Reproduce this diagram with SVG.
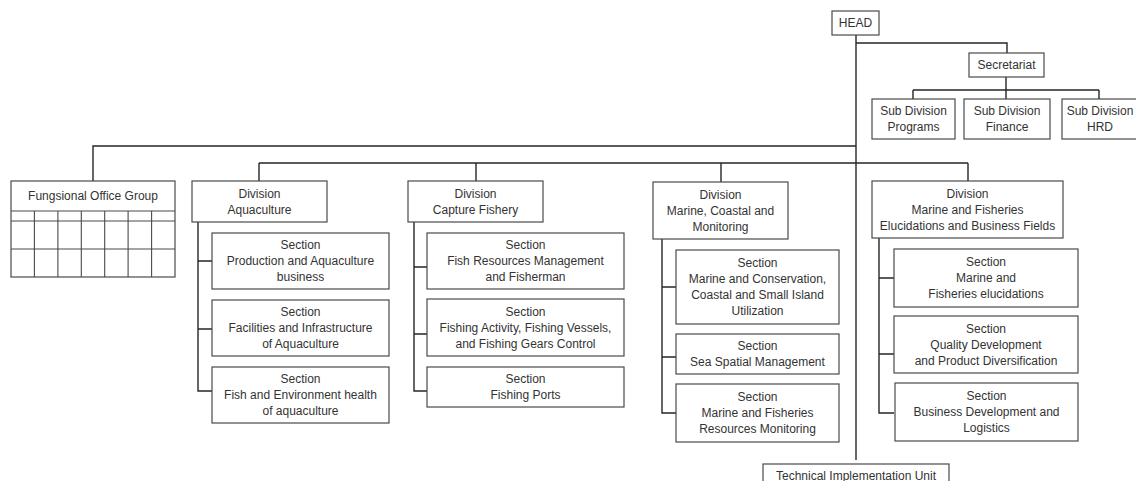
<svg xmlns="http://www.w3.org/2000/svg" width="1136" height="481" viewBox="0 0 1136 481">
  <style>
    .box { fill: #ffffff; stroke: #4a4a4a; stroke-width: 1.2; }
    .grid { fill: none; stroke: #4a4a4a; stroke-width: 1.1; }
    .link { fill: none; stroke: #262626; stroke-width: 1.4; }
    text { font-family: "Liberation Sans", Arial, sans-serif; font-size: 12px; fill: #333333; text-anchor: middle; }
  </style>
  <rect width="1136" height="481" fill="#ffffff"/>

  <!-- connectors -->
  <g id="connectors" class="link">
    <path d="M856 35 V460"/>
    <path d="M856 43 H1007 V53"/>
    <path d="M1006 77 V90 M913 90 H1099 M913 90 V99 M1006 90 V99 M1099 90 V99"/>
    <path d="M856 146 H93 V181"/>
    <path d="M259 163 H968 M259 163 V181 M476 163 V181 M721 163 V182 M968 163 V181"/>
    <path d="M198 222 V391 H212 M198 261 H212 M198 329 H212"/>
    <path d="M414 222 V391 H427 M414 267 H427 M414 334 H427"/>
    <path d="M662 239 V413 H676 M662 287 H676 M662 357 H676"/>
    <path d="M879 238 V413 H894 M879 278 H894 M879 354 H894"/>
  </g>

  <g id="head">
    <rect class="box" x="832" y="11" width="47" height="24"/>
    <text x="855.5" y="27">HEAD</text>
  </g>

  <g id="secretariat">
    <rect class="box" x="969" y="53" width="75" height="24"/>
    <text x="1006.5" y="69">Secretariat</text>
  </g>

  <g id="sub-programs">
    <rect class="box" x="872" y="99" width="83" height="40"/>
    <text x="913.5" y="115">Sub Division</text>
    <text x="913.5" y="131">Programs</text>
  </g>
  <g id="sub-finance">
    <rect class="box" x="964" y="99" width="86" height="40"/>
    <text x="1007" y="115">Sub Division</text>
    <text x="1007" y="131">Finance</text>
  </g>
  <g id="sub-hrd">
    <rect class="box" x="1062" y="99" width="80" height="40"/>
    <text x="1100" y="115">Sub Division</text>
    <text x="1100" y="131">HRD</text>
  </g>

  <g id="functional-group">
    <rect class="box" x="11" y="181" width="164" height="96"/>
    <text x="93" y="200">Fungsional Office Group</text>
    <path class="grid" d="M11 211 H175 M11 221 H175 M11 249 H175 M34.4 211 V277 M57.9 211 V277 M81.3 211 V277 M104.7 211 V277 M128.1 211 V277 M151.6 211 V277"/>
  </g>

  <!-- Division Aquaculture -->
  <g id="div-aquaculture">
    <rect class="box" x="192" y="181" width="135" height="41"/>
    <text x="259.5" y="197.5">Division</text>
    <text x="259.5" y="213.5">Aquaculture</text>
  </g>
  <g id="sec-production">
    <rect class="box" x="212" y="233" width="177" height="56"/>
    <text x="300.5" y="249">Section</text>
    <text x="300.5" y="265">Production and Aquaculture</text>
    <text x="300.5" y="281">business</text>
  </g>
  <g id="sec-facilities">
    <rect class="box" x="212" y="300" width="177" height="56"/>
    <text x="300.5" y="316">Section</text>
    <text x="300.5" y="332">Facilities and Infrastructure</text>
    <text x="300.5" y="348">of Aquaculture</text>
  </g>
  <g id="sec-fish-health">
    <rect class="box" x="212" y="367" width="177" height="56"/>
    <text x="300.5" y="383">Section</text>
    <text x="300.5" y="399">Fish and Environment health</text>
    <text x="300.5" y="415">of aquaculture</text>
  </g>

  <!-- Division Capture Fishery -->
  <g id="div-capture">
    <rect class="box" x="408" y="181" width="135" height="41"/>
    <text x="475.5" y="197.5">Division</text>
    <text x="475.5" y="213.5">Capture Fishery</text>
  </g>
  <g id="sec-resources">
    <rect class="box" x="427" y="233" width="197" height="56"/>
    <text x="525.5" y="249">Section</text>
    <text x="525.5" y="265">Fish Resources Management</text>
    <text x="525.5" y="281">and Fisherman</text>
  </g>
  <g id="sec-fishing-activity">
    <rect class="box" x="427" y="299" width="197" height="57"/>
    <text x="525.5" y="315.5">Section</text>
    <text x="525.5" y="331.5">Fishing Activity, Fishing Vessels,</text>
    <text x="525.5" y="347.5">and Fishing Gears Control</text>
  </g>
  <g id="sec-ports">
    <rect class="box" x="427" y="367" width="197" height="40"/>
    <text x="525.5" y="383">Section</text>
    <text x="525.5" y="399">Fishing Ports</text>
  </g>

  <!-- Division Marine, Coastal and Monitoring -->
  <g id="div-marine">
    <rect class="box" x="653" y="182" width="135" height="57"/>
    <text x="720.5" y="198.5">Division</text>
    <text x="720.5" y="214.5">Marine, Coastal and</text>
    <text x="720.5" y="230.5">Monitoring</text>
  </g>
  <g id="sec-conservation">
    <rect class="box" x="676" y="250" width="163" height="74"/>
    <text x="757.5" y="267">Section</text>
    <text x="757.5" y="283">Marine and Conservation,</text>
    <text x="757.5" y="299">Coastal and Small Island</text>
    <text x="757.5" y="315">Utilization</text>
  </g>
  <g id="sec-spatial">
    <rect class="box" x="676" y="334" width="163" height="40"/>
    <text x="757.5" y="350">Section</text>
    <text x="757.5" y="366">Sea Spatial Management</text>
  </g>
  <g id="sec-monitoring">
    <rect class="box" x="676" y="384" width="163" height="58"/>
    <text x="757.5" y="401">Section</text>
    <text x="757.5" y="417">Marine and Fisheries</text>
    <text x="757.5" y="433">Resources Monitoring</text>
  </g>

  <!-- Division Marine and Fisheries Elucidations and Business Fields -->
  <g id="div-elucidations">
    <rect class="box" x="872" y="181" width="191" height="57"/>
    <text x="967.5" y="197.5">Division</text>
    <text x="967.5" y="213.5">Marine and Fisheries</text>
    <text x="967.5" y="229.5">Elucidations and Business Fields</text>
  </g>
  <g id="sec-elucidations">
    <rect class="box" x="894" y="249" width="184" height="58"/>
    <text x="986" y="266">Section</text>
    <text x="986" y="282">Marine and</text>
    <text x="986" y="298">Fisheries elucidations</text>
  </g>
  <g id="sec-quality">
    <rect class="box" x="894" y="316" width="184" height="57"/>
    <text x="986" y="332.5">Section</text>
    <text x="986" y="348.5">Quality Development</text>
    <text x="986" y="364.5">and Product Diversification</text>
  </g>
  <g id="sec-business">
    <rect class="box" x="895" y="383" width="183" height="58"/>
    <text x="986.5" y="400">Section</text>
    <text x="986.5" y="416">Business Development and</text>
    <text x="986.5" y="432">Logistics</text>
  </g>

  <g id="technical-unit">
    <rect class="box" x="763" y="464" width="186" height="24"/>
    <text x="856" y="480">Technical Implementation Unit</text>
  </g>
</svg>
